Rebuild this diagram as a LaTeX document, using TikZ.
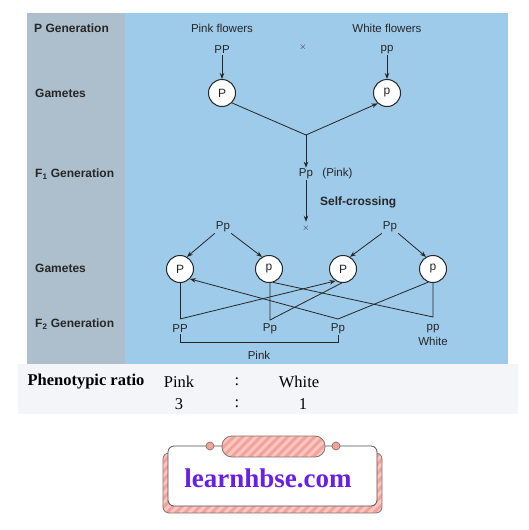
\documentclass[tikz,border=0pt]{standalone}
\usepackage{fontspec}
\setmainfont{Liberation Sans}
\newfontfamily\bookfont{Liberation Serif}
\usetikzlibrary{arrows.meta, positioning}
\definecolor{panelBlue}{HTML}{9ECBEA}
\definecolor{labelGrey}{HTML}{ADBFCC}
\definecolor{inkDark}{HTML}{262626}
\definecolor{ratioBg}{HTML}{F3F5F8}
\definecolor{logoPink}{HTML}{F3A39C}
\definecolor{logoStripe}{HTML}{F8C7C2}
\definecolor{logoEdge}{HTML}{8A7270}
\definecolor{sitePurple}{HTML}{6A1FE6}

\begin{document}
\begin{tikzpicture}[
    x=1pt, y=-1pt,
    font=\fontsize{11.5}{13}\selectfont,
    % Row headings in the grey column
    rowlabel/.style={
        anchor=west,
        inner sep=1pt,
        text=inkDark,
        font=\fontsize{12}{14}\selectfont\bfseries
    },
    % Genotype texts
    geno/.style={
        inner sep=1pt,
        text=inkDark
    },
    % Gamete circles
    gamete/.style={
        circle,
        draw=inkDark,
        fill=white,
        line width=1pt,
        minimum size=27pt,
        inner sep=0pt,
        text=inkDark,
        font=\fontsize{12}{14}\selectfont
    },
    % Cross sign
    crosssign/.style={
        inner sep=1pt,
        text=inkDark,
        font=\small
    },
    % Connecting Lines
    link/.style={
        draw=inkDark,
        line width=0.8pt
    },
    arrowlink/.style={
        link,
        -{Stealth[length=6pt, width=4.5pt]}
    },
    % Ratio table below the panel
    ratio/.style={
        text=black,
        font=\bookfont\fontsize{16.5}{18}\selectfont
    }
]

\useasboundingbox (0,0) rectangle (528,530);

% --- BACKGROUND ---
\fill[white] (0,0) rectangle (528,530);
\fill[ratioBg] (18,364) rectangle (518,414);
\fill[panelBlue] (27,13) rectangle (508,364);
\fill[labelGrey] (27,13) rectangle (125,364);

% --- ROW HEADINGS ---
\node[rowlabel] (PGen) at (33,28) {P Generation};
\node[rowlabel] (GamOne) at (34,93) {Gametes};
\node[rowlabel] (FOneGen) at (34,174) {F\textsubscript{1} Generation};
\node[rowlabel] (GamTwo) at (34,268) {Gametes};
\node[rowlabel] (FTwoGen) at (34,324) {F\textsubscript{2} Generation};

% --- P GENERATION ---
\node[geno] (PinkFl) at (222,28) {Pink flowers};
\node[geno] (WhiteFl) at (387,28) {White flowers};
\node[geno] (ParPP) at (222,50) {PP};
\node[geno] (Parpp) at (387,50) {pp};
\node[crosssign] (CrossOne) at (303,47) {$\times$};
\node[gamete] (GamP) at (222,93) {P};
\node[gamete] (Gamp) at (387,93) {p};
\draw[arrowlink] (ParPP) -- (GamP);
\draw[arrowlink] (Parpp) -- (Gamp);

% --- F1 GENERATION ---
\coordinate (Join) at (306,135);
\draw[link] (GamP.-45) -- (Join);
\draw[arrowlink] (Join) -- (Gamp.228);
\node[geno] (FOne) at (306,174) {Pp};
\node[geno, right=7pt of FOne] (FOneNote) {(Pink)};
\draw[arrowlink] (Join) -- (FOne);
\node[crosssign] (CrossTwo) at (306,228) {$\times$};
\draw[arrowlink, shorten >=2pt] (FOne) -- (CrossTwo);
\node[geno, anchor=west, font=\fontsize{12}{14}\selectfont\bfseries] (SelfNote) at (319,202) {Self-crossing};

% --- GAMETES OF F1 ---
\node[geno] (PpLeft) at (223,227) {Pp};
\node[geno] (PpRight) at (390,227) {Pp};
\node[gamete] (GOne) at (180,269) {P};
\node[gamete] (GTwo) at (269,269) {p};
\node[gamete] (GThree) at (343,269) {P};
\node[gamete] (GFour) at (433,269) {p};
\draw[arrowlink] (PpLeft.south west) -- (GOne.60);
\draw[arrowlink] (PpLeft.south east) -- (GTwo.120);
\draw[arrowlink] (PpRight.south west) -- (GThree.60);
\draw[arrowlink] (PpRight.south east) -- (GFour.120);

% --- F2 GENERATION ---
\node[geno] (FTwoA) at (180,329) {PP};
\node[geno] (FTwoB) at (270,329) {Pp};
\node[geno] (FTwoC) at (338,329) {Pp};
\node[geno] (FTwoD) at (433,329) {pp};
\node[geno, below=1pt of FTwoD] (FTwoDNote) {White};
\coordinate (VOne) at (180,319);
\coordinate (VTwo) at (270,320);
\coordinate (VThree) at (338,319);
\coordinate (VFour) at (433,317);
\draw[link] (GOne.south) -- (VOne);
\draw[arrowlink] (VOne) -- (GThree.238);
\draw[link] (GTwo.south -| VTwo) -- (VTwo) -- (GThree.265);
\draw[arrowlink] (VThree) -- (GOne.-45);
\draw[link] (VThree) -- (GFour.250);
\draw[link] (GFour.south) -- (VFour) -- (GTwo.-73);
\draw[link] (FTwoA.south) -- ++(0,8) -| (FTwoC.south);
\node[geno] (PinkNote) at (259,355) {Pink};

% --- PHENOTYPIC RATIO ---
\node[ratio, anchor=west, font=\bookfont\fontsize{16.5}{18}\selectfont\bfseries] (RatioHead) at (24,382) {Phenotypic ratio};
\node[ratio] (RPink) at (179,382) {Pink};
\node[ratio] (RColonOne) at (237,382) {:};
\node[ratio] (RWhite) at (299,382) {White};
\node[ratio] (RThree) at (179,404) {3};
\node[ratio] (RColonTwo) at (237,404) {:};
\node[ratio] (ROne) at (303,404) {1};

% --- SITE BADGE ---
\begin{scope}
    \clip[rounded corners=6pt] (163,453) rectangle (382,513);
    \fill[logoPink] (163,453) rectangle (382,513);
    \foreach \s in {90,99,...,390}
        \draw[logoStripe, line width=3pt] (\s,513) -- ++(70,-70);
\end{scope}
\draw[logoEdge, line width=0.8pt, rounded corners=6pt] (163,453) rectangle (382,513);
\draw[fill=white, draw=inkDark!80, line width=0.8pt, rounded corners=6pt] (168,446) rectangle (377,506);
\begin{scope}
    \clip[rounded corners=10pt] (222,436) rectangle (325,457);
    \fill[logoPink] (222,436) rectangle (325,457);
    \foreach \s in {200,209,...,330}
        \draw[logoStripe, line width=3pt] (\s,457) -- ++(30,-30);
\end{scope}
\draw[logoEdge, line width=0.8pt, rounded corners=10pt] (222,436) rectangle (325,457);
\draw[fill=logoPink, draw=logoEdge, line width=0.7pt] (210,446) circle (4);
\draw[fill=logoPink, draw=logoEdge, line width=0.7pt] (336,446) circle (4);
\node[text=sitePurple, font=\bookfont\fontsize{27}{30}\selectfont\bfseries] (Site) at (268,478) {learnhbse.com};

\end{tikzpicture}
\end{document}
